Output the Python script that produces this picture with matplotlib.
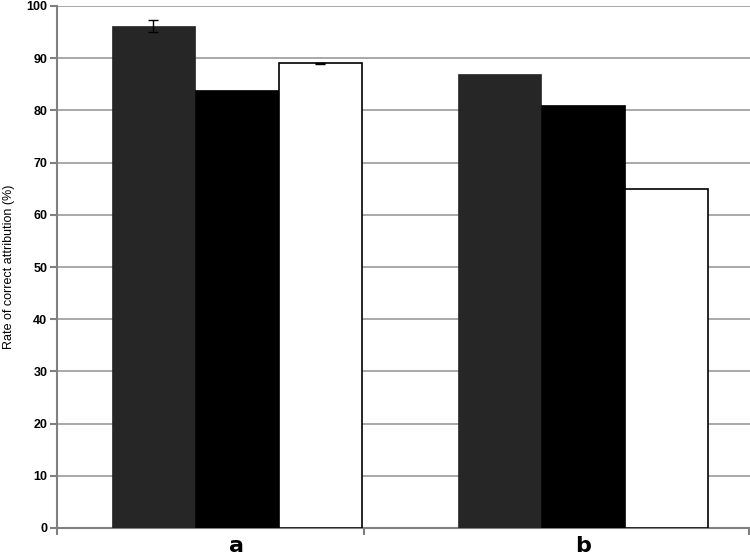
import numpy as np
import matplotlib.pyplot as plt

# === Données ===
groups = ["a", "b"]
dark_vals = [96.2, 87]
black_vals = [84, 81]
white_vals = [89, 65]
dark_err = [1.2, 0.0]
white_err = [0.1, 0.0]

# === Figure ===
fig = plt.figure(figsize=(7.5, 5.59), dpi=100)
ax = fig.add_axes([57 / 750, 1 - 528 / 559, 1 - 57 / 750, (528 - 6) / 559])

x = np.arange(len(groups))
w = 0.2413

ax.bar(x - w, dark_vals, w, color="#262626", edgecolor="#262626", linewidth=0.5, zorder=3)
ax.bar(x, black_vals, w, color="black", edgecolor="black", linewidth=0.5, zorder=3)
ax.bar(x + w, white_vals, w, color="white", edgecolor="black", linewidth=1.2, zorder=3)

# barres d'erreur seulement pour le groupe a
ax.errorbar(x[:1] - w, dark_vals[:1], yerr=dark_err[:1], fmt="none", ecolor="black",
            elinewidth=1, capsize=3.6, zorder=4)
ax.errorbar(x[:1] + w, white_vals[:1], yerr=white_err[:1], fmt="none", ecolor="black",
            elinewidth=1, capsize=3.6, zorder=4)

ax.set_ylim(0, 100)
ax.set_xlim(-0.52, 1.483)
ax.set_yticks(np.arange(0, 101, 10))
ax.yaxis.grid(True, color="#999999", linewidth=1.2, zorder=0)
ax.set_axisbelow(True)

for s in ["top", "right"]:
    ax.spines[s].set_visible(False)
for s in ["left", "bottom"]:
    ax.spines[s].set_color("#808080")
    ax.spines[s].set_linewidth(1.5)

ax.set_xticks(x)
ax.set_xticklabels(groups, fontsize=16, fontweight="bold")
ax.tick_params(axis="x", length=0, pad=6)
ax.set_xticks([-0.52, 0.367, 1.48], minor=True)
ax.tick_params(axis="x", which="minor", length=5, color="#808080", width=1.5)
ax.tick_params(axis="y", length=5, color="#808080", width=1.5, labelsize=9, pad=2)
for lbl in ax.get_yticklabels():
    lbl.set_fontweight("bold")
    lbl.set_family("Liberation Sans")

ax.set_ylabel("Rate of correct attribution (%)", fontsize=9, family="Liberation Sans", labelpad=8)

fig.savefig("out.png", dpi=100)
